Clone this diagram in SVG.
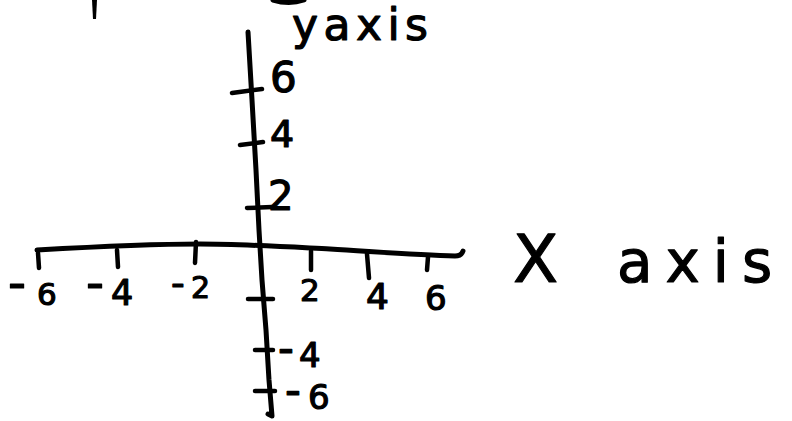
<svg xmlns="http://www.w3.org/2000/svg" width="792" height="421" viewBox="0 0 792 421">
<style>
.ln{fill:none;stroke:#000;stroke-width:5;stroke-linecap:round;stroke-linejoin:round}
.tk{fill:none;stroke:#000;stroke-width:4.5;stroke-linecap:round}
.t{font-family:"DejaVu Sans","Liberation Sans",sans-serif;fill:#000;stroke:#000;stroke-width:1.2;stroke-linejoin:round}
</style>
<rect width="792" height="421" fill="#fff"/>
<g id="fragments">
<path d="M92,0 L97,0 L96,19 L93,19 Z" fill="#000"/>
<path class="ln" stroke-width="4" d="M273,0 Q289,5 304,0"/>
</g>
<g id="connectors">
<path id="y-axis" class="ln" d="M248,32 L252,100 L256,170 L259,230 L262,280 L266,330 L269,380 L272,416 L268,414"/>
<path id="x-axis" class="ln" d="M37,250 C90,247 160,244 200,244 C240,244 290,247 330,249 C380,252 420,255 455,256 C460,256 462,254 463,251"/>
</g>
<g id="y-ticks">
<path class="tk" d="M232,93 L262,89"/>
<path class="tk" d="M240,145 L263,142"/>
<path class="tk" d="M247,208 L272,207"/>
<path class="tk" d="M248,299 L273,299"/>
<path class="tk" d="M255,350 L273,350"/>
<path class="tk" d="M255,391 L275,391"/>
</g>
<g id="x-ticks">
<path class="tk" d="M38,253 L39,268"/>
<path class="tk" d="M117,250 L118,267"/>
<path class="tk" d="M196,242 L195,263"/>
<path class="tk" d="M311,251 L311,270"/>
<path class="tk" d="M367,254 L369,278"/>
<path class="tk" d="M428,257 L427,270"/>
</g>
<g id="y-axis-title"><text class="t" x="292" y="40" font-size="44" textLength="136" lengthAdjust="spacing">yaxis</text></g>
<g id="x-axis-title"><text class="t" x="513" y="282" font-size="66">X <tspan x="617" font-size="58" letter-spacing="13">axis</tspan></text></g>
<g id="y-labels">
<text class="t" x="270" y="92" font-size="42">6</text>
<text class="t" x="270" y="147" font-size="38">4</text>
<text class="t" x="268" y="210" font-size="40">2</text>
<text class="t" font-size="34"><tspan x="278" y="363" font-size="44">-</tspan><tspan x="299" y="367">4</tspan></text>
<text class="t" font-size="34"><tspan x="285" y="405" font-size="44">-</tspan><tspan x="308" y="409">6</tspan></text>
</g>
<g id="x-labels">
<text class="t" x="8" y="300" font-size="50">-<tspan x="37" y="305" font-size="31">6</tspan></text>
<text class="t" x="86" y="300" font-size="50">-<tspan x="111" y="305" font-size="35">4</tspan></text>
<text class="t" x="171" y="296" font-size="38">-<tspan x="191" y="298" font-size="30">2</tspan></text>
<text class="t" x="300" y="301" font-size="31">2</text>
<text class="t" x="366" y="309" font-size="36">4</text>
<text class="t" x="425" y="310" font-size="34">6</text>
</g>
</svg>
